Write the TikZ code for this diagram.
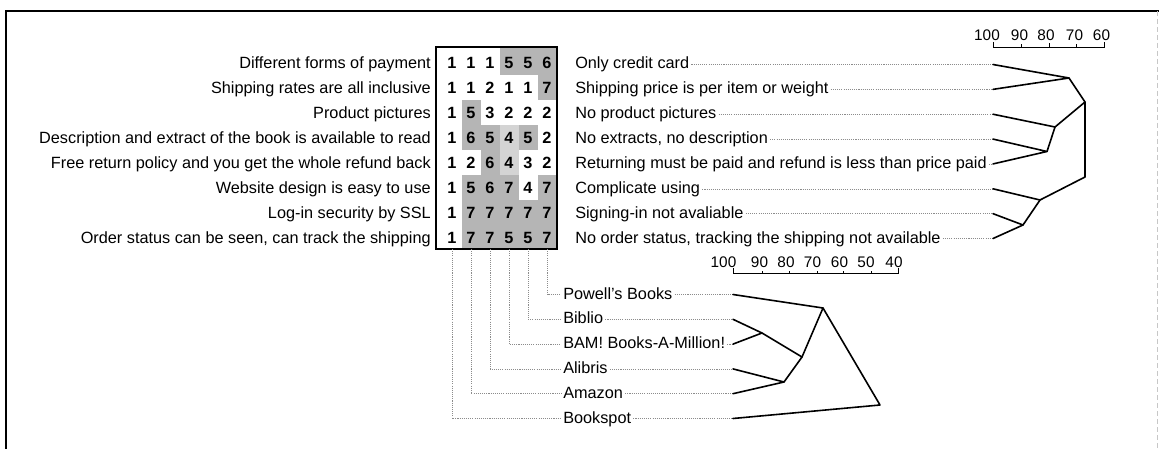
\documentclass[tikz,border=0pt]{standalone}
\usepackage{fontspec}
\setmainfont{Liberation Sans}
\begin{document}
\begin{tikzpicture}[x=0.75pt,y=-0.75pt,
  lab/.style={font=\fontsize{12.2}{14}\selectfont, inner sep=0pt},
  num/.style={font=\fontsize{12.2}{14}\selectfont\bfseries, inner sep=0pt, anchor=base},
  sc/.style={font=\fontsize{11.5}{13}\selectfont, inner sep=0pt, anchor=base},
  leader/.style={draw=black!45, line width=0.45pt, dash pattern=on 0.8pt off 0.8pt},
  dendro/.style={draw=black, line width=1.2pt, line join=round, line cap=round},
  scalebar/.style={draw=black, line width=0.7pt},
  dark/.style={fill=black!29},
  light/.style={fill=black!17},
]
\useasboundingbox (0,0) rectangle (1159,449);
\fill[white] (0,0) rectangle (1159,449);
% frame
\draw[line width=1.5pt] (6,449) -- (6,11) -- (1159,11);
\draw[black!22, line width=0.5pt, dash pattern=on 4pt off 2pt] (1157,11) -- (1157,449);

% shading of the data matrix
\foreach \i/\j/\s in {1/4/dark,1/5/dark,1/6/dark,2/6/dark,3/2/dark,
  4/2/dark,4/3/dark,4/4/light,4/5/dark,5/3/dark,5/4/light,
  6/2/dark,6/3/dark,6/4/dark,6/6/dark,
  7/2/dark,7/3/dark,7/4/dark,7/5/dark,7/6/dark,
  8/2/dark,8/3/dark,8/4/dark,8/5/dark,8/6/dark}{
  \pgfmathsetmacro\xa{{436,461.5,480.5,499.5,518.5,537.5,557}[\j-1]}
  \pgfmathsetmacro\xb{{436,461.5,480.5,499.5,518.5,537.5,557}[\j]}
  \pgfmathsetmacro\ya{{47,75.4,100.3,125.2,150,174.9,199.7,224.6,249}[\i-1]}
  \pgfmathsetmacro\yb{{47,75.4,100.3,125.2,150,174.9,199.7,224.6,249}[\i]}
  \fill[\s] (\xa,\ya) rectangle (\xb,\yb);
}
\draw[line width=1.3pt] (436,47) rectangle (557,249);

% numbers
\foreach \r [count=\i] in {{1,1,1,5,5,6},{1,1,2,1,1,7},{1,5,3,2,2,2},{1,6,5,4,5,2},
  {1,2,6,4,3,2},{1,5,6,7,4,7},{1,7,7,7,7,7},{1,7,7,5,5,7}}{
  \foreach \v [count=\j] in \r {
    \node[num] (g\i-\j) at ({452+19*(\j-1)},{63+24.86*(\i-1)+6}) {\v};
  }
}

% left labels
\foreach \t [count=\i] in {Different forms of payment,
  Shipping rates are all inclusive,
  Product pictures,
  Description and extract of the book is available to read,
  Free return policy and you get the whole refund back,
  Website design is easy to use,
  Log-in security by SSL,
  {Order status can be seen, can track the shipping}}{
  \node[lab, anchor=base east] (l\i) at (431,{63+24.86*(\i-1)+6}) {\t};
}

% right labels with leaders
\foreach \t [count=\i] in {Only credit card,
  Shipping price is per item or weight,
  No product pictures,
  {No extracts, no description},
  Returning must be paid and refund is less than price paid,
  Complicate using,
  Signing-in not avaliable,
  {No order status, tracking the shipping not available}}{
  \node[lab, anchor=base west] (r\i) at (575,{63+24.86*(\i-1)+6}) {\t};
  \coordinate (a\i) at (993,{63+24.86*(\i-1)+1.5});
  \path (r\i.east) ++(2,0) coordinate (re\i);
  \draw[leader] (re\i |- a\i) -- (a\i);
}

% right dendrogram
\coordinate (d12) at (1069,78);
\coordinate (d45) at (1047,151.5);
\coordinate (d345) at (1055,127);
\coordinate (d15) at (1085,102);
\coordinate (d78) at (1023,225);
\coordinate (d678) at (1040,200);
\coordinate (droot) at (1085,177);
\draw[dendro] (a1) -- (d12) -- (a2);
\draw[dendro] (d12) -- (d15) -- (d345) -- (d45);
\draw[dendro] (a3) -- (d345);
\draw[dendro] (a4) -- (d45) -- (a5);
\draw[dendro] (d15) -- (droot) -- (d678) -- (d78);
\draw[dendro] (a6) -- (d678);
\draw[dendro] (a7) -- (d78) -- (a8);

% right scale
\foreach \v/\x in {100/987,90/1019.5,80/1046,70/1074.5,60/1101.5}{
  \node[sc] (rs\v) at (\x,41) {\v};
}
\draw[scalebar] (993,42) -- (993,47.5) -- (1104,47.5) -- (1104,42);
\foreach \x in {1021,1076}{\draw[scalebar] (\x,47.5) -- (\x,44.5);}
\draw[scalebar] (1049,47.5) -- (1049,43);

% bottom labels (stores)
\foreach \t [count=\k] in {Powell's Books,Biblio,BAM! Books-A-Million!,Alibris,Amazon,Bookspot}{
  \node[lab, anchor=base west] (s\k) at (563,{294.5+24.8*(\k-1)+4.5}) {\t};
  \coordinate (b\k) at (733,{294.5+24.8*(\k-1)});
  \coordinate (u\k) at (561,{294.5+24.8*(\k-1)});
  \path (s\k.east) ++(2,0) coordinate (se\k);
  \draw[leader] (se\k |- b\k) -- (b\k);
}
% vertical leaders from columns to stores
\foreach \j/\k in {1/6,2/5,3/4,4/3,5/2,6/1}{
  \coordinate (t\j) at ({452+19*(\j-1)},249);
  \draw[leader] (t\j) |- (u\k);
}

% bottom dendrogram
\coordinate (eBB) at (762,333);
\coordinate (eAA) at (784,382);
\coordinate (e4) at (802,357);
\coordinate (eP) at (823,308);
\coordinate (eR) at (880,405);
\draw[dendro] (b2) -- (eBB) -- (b3);
\draw[dendro] (eBB) -- (e4) -- (eAA);
\draw[dendro] (b4) -- (eAA) -- (b5);
\draw[dendro] (e4) -- (eP) -- (b1);
\draw[dendro] (eP) -- (eR) -- (b6);

% bottom scale
\foreach \v/\x in {100/723.5,90/759.5,80/786,70/812.5,60/839.5,50/866,40/894}{
  \node[sc] (bs\v) at (\x,267.5) {\v};
}
\draw[scalebar] (733,268) -- (733,273.5) -- (898,273.5) -- (898,268);
\foreach \x in {762,789,817,843,871}{\draw[scalebar] (\x,273.5) -- (\x,270.5);}
\end{tikzpicture}
\end{document}
